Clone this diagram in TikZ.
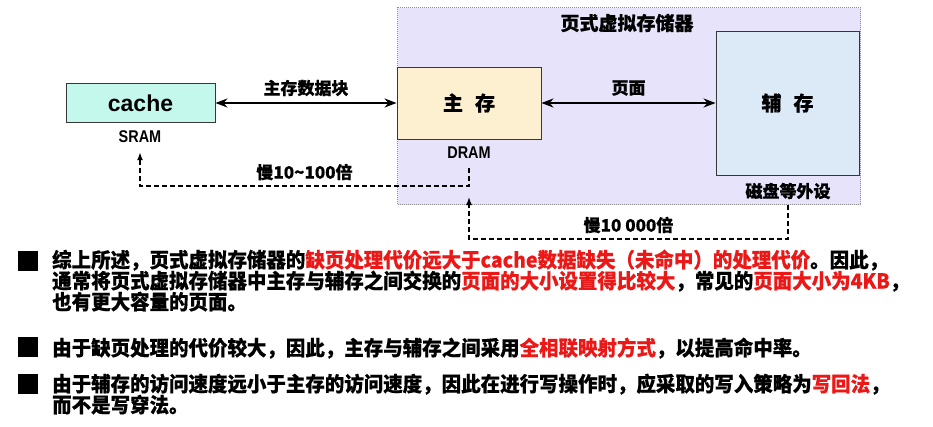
\documentclass[tikz,border=0pt]{standalone}
\usepackage{fontspec}
\setmainfont{Liberation Sans}
\newfontfamily\cjk{Noto Sans CJK SC}
\newfontfamily\narrowsans[FakeStretch=0.85]{Liberation Sans}
\newcommand\cjkheavy{\cjk\bfseries\addfontfeatures{FakeBold=0.5}}
\usetikzlibrary{arrows.meta, positioning}
\definecolor{vmlilac}{RGB}{231,227,250}
\definecolor{cachemint}{RGB}{196,248,236}
\definecolor{dramcream}{RGB}{253,240,208}
\definecolor{diskblue}{RGB}{220,234,248}
\definecolor{hotred}{RGB}{235,24,24}
\definecolor{edgegray}{RGB}{55,55,55}

\begin{document}
\begin{tikzpicture}[x=1pt, y=-1pt,
    frame/.style={draw=black!45, dash pattern=on 1pt off 1pt, line width=1pt, fill=vmlilac, inner sep=0pt},
    membox/.style={rectangle, draw=edgegray, line width=0.9pt, inner sep=0pt, font=\cjkheavy\fontsize{20}{20}\selectfont},
    tag/.style={inner sep=0pt, font=\cjkheavy\fontsize{17}{17}\selectfont},
    chip/.style={inner sep=0pt, font=\narrowsans\bfseries\fontsize{17}{17}\selectfont},
    link/.style={{Stealth[length=12pt,width=9pt]}-{Stealth[length=12pt,width=9pt]}, line width=2.6pt},
    slow/.style={-{Latex[length=8pt,width=6pt]}, line width=1.4pt, dash pattern=on 5pt off 3pt},
    note/.style={anchor=base west, inner sep=0pt, font=\cjkheavy\addfontfeatures{FakeStretch=0.95}\fontsize{20.5}{21}\selectfont},
    bulletsq/.style={fill=black, minimum width=20pt, minimum height=20pt, inner sep=0pt}
]
\useasboundingbox (0,0) rectangle (933,426);
% virtual memory frame
\node[frame, minimum width=463pt, minimum height=197pt, anchor=north west] (vm) at (397,7) {};
\node[tag, font=\cjkheavy\fontsize{19}{19}\selectfont] (vmtitle) at (627,23) {页式虚拟存储器};
% memories
\node[membox, fill=cachemint, minimum width=149pt, minimum height=39pt, font=\bfseries\fontsize{23}{23}\selectfont] (cache) at (140.5,103) {cache};
\node[chip] (sram) at (140,137) {SRAM};
\node[membox, fill=dramcream, minimum width=144pt, minimum height=72pt] (dram) at (469,103) {主\hspace{0.6em}存};
\node[chip] (dramtag) at (469,153) {DRAM};
\node[membox, fill=diskblue, minimum width=143pt, minimum height=144pt] (disk) at (787.5,103) {辅\hspace{0.6em}存};
\node[tag] (disktag) at (788,191) {磁盘等外设};
\coordinate (dramin) at (469,197);
% transfers
\draw[link] (cache) -- node[tag, yshift=15pt] (blocklbl) {主存数据块} (dram);
\draw[link] (dram) -- node[tag, yshift=15pt] (pagelbl) {页面} (disk);
\draw[slow] ([yshift=-9pt]dramtag.south) -- ++(0,18) -| node[tag, pos=0.25, yshift=14pt] (slow1) {慢10\textasciitilde100倍} ([yshift=-9pt]sram.south);
\draw[slow] (disktag.south |- vm.south) -- ++(0,34) -| node[tag, pos=0.25, yshift=14pt] (slow2) {慢10 000倍} (dramin);
% summary
\node[bulletsq] (sq1) at (28,260.5) {};
\node[note] (p1a) at (52,267.5) {综上所述，页式虚拟存储器的\textcolor{hotred}{缺页处理代价远大于cache数据缺失（未命中）的处理代价}。因此，};
\node[note] (p1b) at (52,288.5) {通常将页式虚拟存储器中主存与辅存之间交换的\textcolor{hotred}{页面的大小设置得比较大}，常见的\textcolor{hotred}{页面大小为4KB}，};
\node[note] (p1c) at (52,309.5) {也有更大容量的页面。};
\node[bulletsq] (sq2) at (28,347) {};
\node[note] (p2a) at (52,355.5) {由于缺页处理的代价较大，因此，主存与辅存之间采用\textcolor{hotred}{全相联映射方式}，以提高命中率。};
\node[bulletsq] (sq3) at (28,384) {};
\node[note] (p3a) at (52,391.5) {由于辅存的访问速度远小于主存的访问速度，因此在进行写操作时，应采取的写入策略为\textcolor{hotred}{写回法}，};
\node[note] (p3b) at (52,412.5) {而不是写穿法。};
\end{tikzpicture}
\end{document}
